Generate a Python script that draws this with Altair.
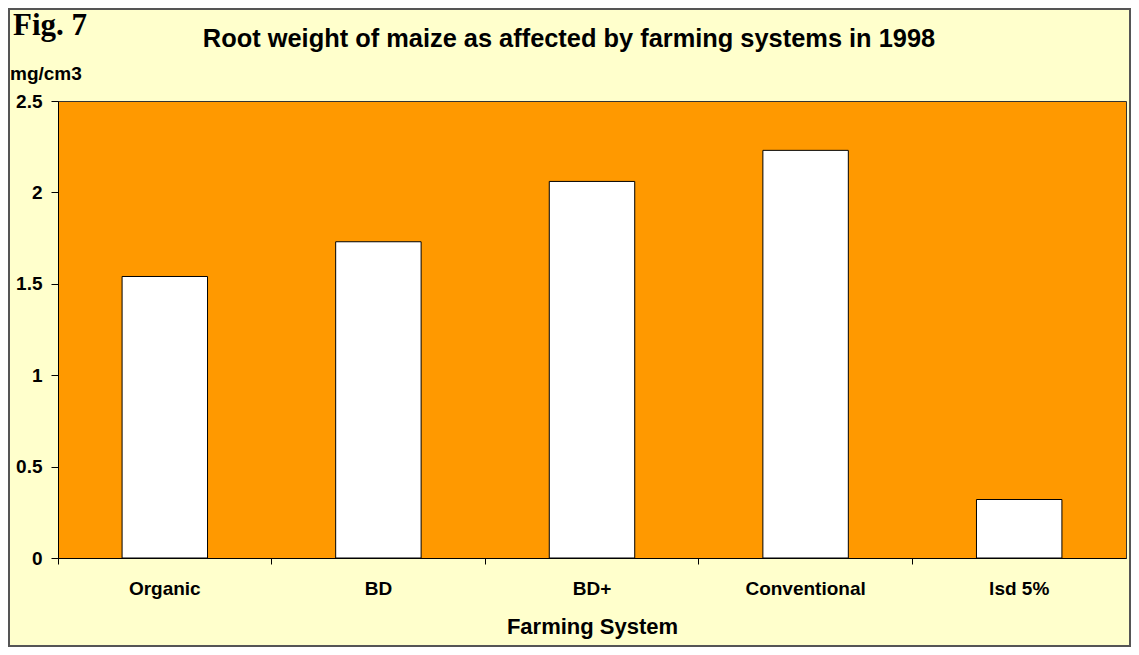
import altair as alt
import pandas as pd

categories = ["Organic", "BD", "BD+", "Conventional", "lsd 5%"]
values = [1.54, 1.73, 2.06, 2.23, 0.32]
y_ticks = [0, 0.5, 1, 1.5, 2, 2.5]

df = pd.DataFrame({"system": categories, "weight": values})

W, H = 1068, 457
PL, PT, PR, PB = 50, 93, 5, 89
FONT = "Liberation Sans"

bars = alt.Chart(df).mark_bar(
    width=alt.RelativeBandSize(0.4), fill="white", stroke="black", strokeWidth=1
).encode(
    x=alt.X("system:N", sort=categories, title="Farming System",
            scale=alt.Scale(paddingInner=0, paddingOuter=0),
            axis=alt.Axis(labelAngle=0, bandPosition=0, labelFont=FONT, labelFontSize=19,
                          labelFontWeight="bold", labelColor="black", labelPadding=15,
                          tickColor="black", tickSize=6, domainColor="black",
                          titleFont=FONT, titleFontSize=22, titleFontWeight="bold",
                          titleColor="black", titlePadding=18, grid=False)),
    y=alt.Y("weight:Q", title=None,
            scale=alt.Scale(domain=[0, 2.5], nice=False, zero=True),
            axis=alt.Axis(values=y_ticks, format=".1~f", labelFont=FONT, labelFontSize=19,
                          labelFontWeight="bold", labelColor="black", labelPadding=9,
                          tickColor="black", tickSize=7, domainColor="black", grid=False)),
)

fig = alt.Chart(pd.DataFrame({"t": ["Fig. 7"]})).mark_text(
    font="Liberation Serif", fontSize=31, fontWeight="bold", align="left", baseline="alphabetic", color="black"
).encode(text="t:N", x=alt.value(-45), y=alt.value(-66))

title = alt.Chart(pd.DataFrame({"t": ["Root weight of maize as affected by farming systems in 1998"]})).mark_text(
    font=FONT, fontSize=25.4, fontWeight="bold", align="center", baseline="alphabetic", color="black"
).encode(text="t:N", x=alt.value(511), y=alt.value(-54))

unit = alt.Chart(pd.DataFrame({"t": ["mg/cm3"]})).mark_text(
    font=FONT, fontSize=19, fontWeight="bold", align="left", baseline="alphabetic", color="black"
).encode(text="t:N", x=alt.value(-48), y=alt.value(-21))

border = alt.Chart(pd.DataFrame({"a": [0]})).mark_rect(
    fill=None, stroke="#555555", strokeWidth=2
).encode(x=alt.value(-PL + 1), x2=alt.value(W + PR - 1), y=alt.value(-PT + 1), y2=alt.value(H + PB - 1))

chart = alt.layer(bars, fig, title, unit, border).properties(
    width=W, height=H,
    padding={"left": PL, "top": PT, "right": PR, "bottom": PB},
    autosize=alt.AutoSizeParams(type="none"),
    background="#FFFFCC",
).configure_view(fill="#FF9900", stroke="#333333", strokeWidth=1)

chart.save("out.html", embed_options={"renderer": "svg", "actions": False})
